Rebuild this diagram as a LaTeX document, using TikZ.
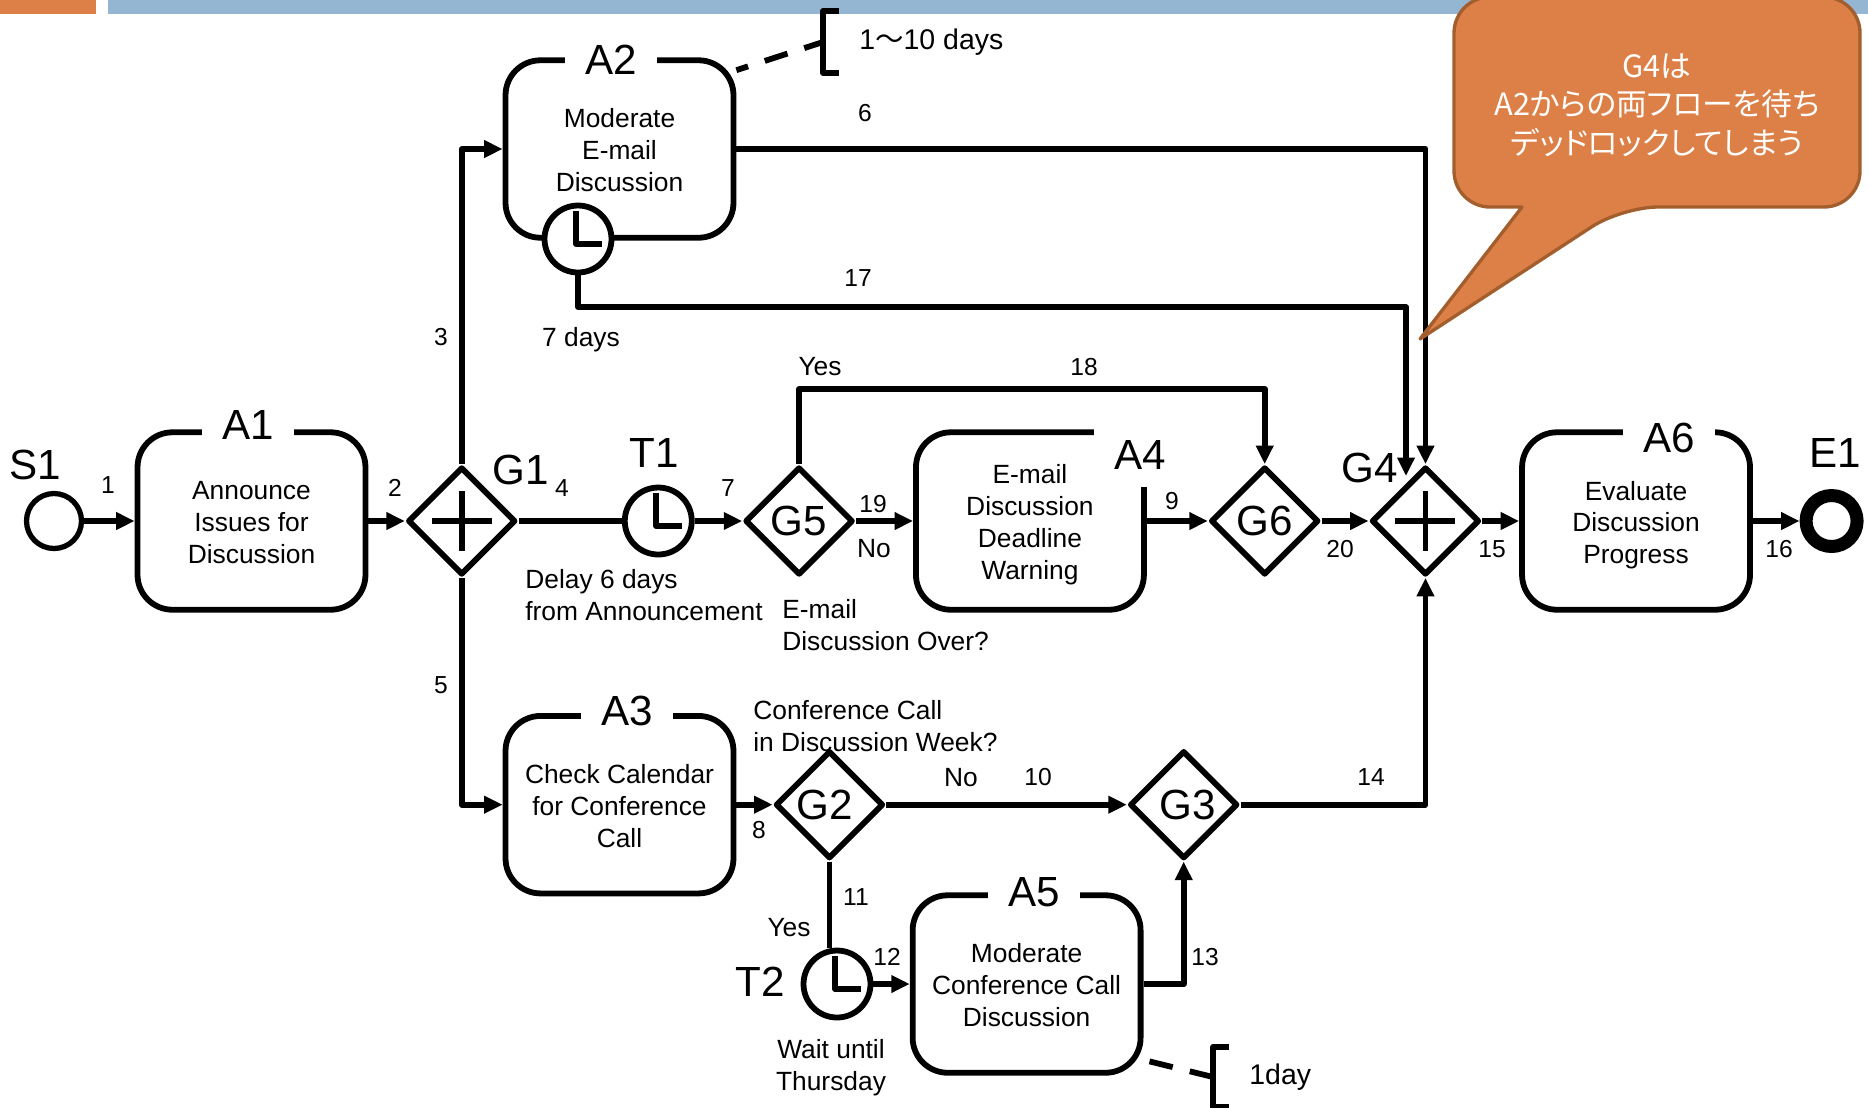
\documentclass[tikz,border=0pt]{standalone}
\usepackage{fontspec}
\setmainfont{Liberation Sans}
\newfontfamily\cjk{Noto Sans CJK JP}
\newfontfamily\cjkp[RawFeature=+palt]{Noto Sans CJK JP}
\usepackage{xcolor}
\usepackage{tikz}
\usetikzlibrary{positioning,arrows.meta,shapes.geometric,calc}
\definecolor{barOrange}{HTML}{DD8047}
\definecolor{barBlue}{HTML}{94B6D2}
\definecolor{noteEdge}{HTML}{A35E2E}

\begin{document}
\begin{tikzpicture}[
    x=0.02cm, y=-0.02cm,
    font=\fontsize{15}{18.2}\selectfont,
    line join=round,
    act_box/.style={draw, line width=3.3pt, rounded corners=0.7cm, minimum width=4.56cm, minimum height=3.55cm, align=center, inner sep=0pt},
    gate_box/.style={draw, diamond, aspect=1, line width=3.3pt, minimum width=2.16cm, minimum height=2.16cm, inner sep=0pt, font=\fontsize{24}{28}\selectfont},
    clock_box/.style={draw, circle, fill=white, line width=3.3pt, minimum size=1.34cm, inner sep=0pt},
    start_box/.style={draw, circle, line width=3pt, minimum size=1.1cm, inner sep=0pt},
    end_box/.style={draw, circle, line width=7.4pt, minimum size=1.02cm, inner sep=0pt},
    title_txt/.style={inner sep=0pt, font=\fontsize{24}{28}\selectfont},
    gap_txt/.style={title_txt, fill=white, minimum width=1.84cm},
    num_txt/.style={inner sep=0pt, font=\fontsize{14}{17}\selectfont},
    note_txt/.style={inner sep=0pt, align=left},
    time_txt/.style={note_txt, anchor=west, font=\fontsize{16.2}{20}\selectfont},
    arrow/.style={-{Triangle[length=10.5pt,width=9.5pt]}, line width=3.3pt},
    flow/.style={line width=3.3pt},
    marker/.style={line width=3.3pt},
    dashline/.style={line width=3.3pt, dash pattern=on 13.6pt off 10pt},
    callout_box/.style={draw=noteEdge, fill=barOrange, line width=1.9pt},
    callout_txt/.style={inner sep=0pt, align=center, text=white, font=\fontsize{17.5}{22}\cjkp}
]
\useasboundingbox (0,0) rectangle (1868,1107);

% slide bars
\fill[barOrange] (0,0) rectangle (96,14);
\fill[barBlue] (108,0) rectangle (1868,14);

% middle row
\node (S1) [start_box] at (54,521) {};
\node (A1) [act_box, right=1.01cm of S1] {\rule{0pt}{11.8pt}Announce\\Issues for\\Discussion};
\node (G1) [gate_box, right=0.73cm of A1] {};
\node (T1) [clock_box, right=2.065cm of G1] {};
\node (G5) [gate_box, right=0.951cm of T1] {G5};
\node (A4) [act_box, right=1.142cm of G5] {\rule{0pt}{14.6pt}E-mail\\Discussion\\Deadline\\Warning};
\node (G6) [gate_box, right=1.22cm of A4] {G6};
\node (G4) [gate_box, right=0.94cm of G6] {};
\node (A6) [act_box, right=0.736cm of G4] {\rule{0pt}{15.6pt}Evaluate\\Discussion\\Progress};
\node (E1) [end_box, right=0.934cm of A6] {};

% upper and lower branches
\node (A2) [act_box] at (619.5,149) {\rule{0pt}{11.8pt}Moderate\\E-mail\\Discussion};
\node (A2t) [clock_box] at (578,239) {};
\node (A3) [act_box, below=9.45cm of A2] {\rule{0pt}{12.8pt}Check Calendar\\for Conference\\Call};
\node (G2) [gate_box, right=0.724cm of A3] {G2\kern 5pt};
\node (G3) [gate_box, right=4.81cm of G2] {\kern 5pt G3};
\node (T2) [clock_box] at (837,984) {};
\node (A5) [act_box, right=0.727cm of T2] {\rule{0pt}{11.8pt}Moderate\\Conference Call\\Discussion};

% titles
\node (lblS1) [title_txt] at (35,465) {S1};
\node (lblA1) [gap_txt] at (248,425) {A1};
\node (lblG1) [title_txt] at (521,470) {G1};
\node (lblT1) [title_txt] at (654,453) {T1};
\node (lblA4) [gap_txt, anchor=north west, minimum height=1.3cm] at (1094,422) {A4};
\node (lblG4) [title_txt] at (1370,468) {G4};
\node (lblA6) [gap_txt] at (1669,438) {A6};
\node (lblE1) [title_txt] at (1835,453) {E1};
\node (lblA2) [gap_txt] at (611,60) {A2};
\node (lblA3) [gap_txt] at (627,711) {A3};
\node (lblA5) [gap_txt] at (1034,892) {A5};
\node (lblT2) [title_txt] at (760,982) {T2};

% plus signs and clock hands
\draw [marker] (G1.center) ++(-30,0) -- ++(60,0);
\draw [marker] (G1.center) ++(0,-30) -- ++(0,60);
\draw [marker] (G4.center) ++(-30,0) -- ++(60,0);
\draw [marker] (G4.center) ++(0,-30) -- ++(0,60);
\draw [marker] (T1.center) ++(-2,-28) -- ++(0,33) -- ++(26,0);
\draw [marker] (T2.center) ++(-2,-28) -- ++(0,33) -- ++(26,0);
\draw [marker] (A2t.center) ++(-2,-28) -- ++(0,33) -- ++(26,0);

% connectors
\coordinate (c17) at (1406,307);
\coordinate (G4nw) at (1406,476);
\draw [arrow] (S1.east) -- (A1.west);
\draw [arrow] (A1.east) -- (G1.west);
\draw [arrow] (G1.north) |- (A2.west);
\draw [flow]  (G1.east) -- (T1.west);
\draw [arrow] (G1.south) |- (A3.west);
\draw [arrow] (A2.east) -| (G4.north);
\draw [arrow] (T1.east) -- (G5.west);
\draw [arrow] (A3.east) -- (G2.west);
\draw [arrow] (A4.east) -- (G6.west);
\draw [arrow] (G2.east) -- (G3.west);
\draw [flow]  (G2.south) -- (G2.south |- T2.north);
\draw [arrow] (T2.east) -- (A5.west);
\draw [arrow] (A5.east) -| (G3.south);
\draw [arrow] (G3.east) -| (G4.south);
\draw [arrow] (G4.east) -- (A6.west);
\draw [arrow] (A6.east) -- (E1.west);
\draw [arrow] (A2t.south) |- (c17) -- (G4nw);
\draw [arrow] (G5.north) -- ++(0,-75) -| (G6.north);
\draw [arrow] (G5.east) -- (A4.west);
\draw [arrow] (G6.east) -- (G4.west);

% time annotations
\coordinate (brA2) at (823,42);
\coordinate (brA5) at (1213,1077);
\draw [dashline, dash phase=6.6pt] (A2.34) -- (brA2);
\draw [marker] (brA2) ++(16,-31) -- ++(-16,0) -- ++(0,62) -- ++(16,0);
\node (time2) [time_txt] at (859,42) {1{\cjk ～}10 days};
\draw [dashline, shorten <=3.5pt] (A5.-33) -- (brA5);
\draw [marker] (brA5) ++(16,-30) -- ++(-16,0) -- ++(0,60) -- ++(16,0);
\node (time5) [time_txt] at (1249,1077) {1day};

% flow numbers
\node (n1) [num_txt] at (108,485) {1};
\node (n2) [num_txt] at (395,488) {2};
\node (n3) [num_txt] at (441,337) {3};
\node (n4) [num_txt] at (562,488) {4};
\node (n5) [num_txt] at (441,685) {5};
\node (n6) [num_txt] at (865,113) {6};
\node (n7) [num_txt] at (728,488) {7};
\node (n8) [num_txt] at (759,830) {8};
\node (n9) [num_txt] at (1172,501) {9};
\node (n10) [num_txt] at (1038,777) {10};
\node (n11) [num_txt] at (856,897) {11};
\node (n12) [num_txt] at (887,957) {12};
\node (n13) [num_txt] at (1205,957) {13};
\node (n14) [num_txt] at (1371,777) {14};
\node (n15) [num_txt] at (1492,549) {15};
\node (n16) [num_txt] at (1779,549) {16};
\node (n17) [num_txt] at (858,278) {17};
\node (n18) [num_txt] at (1084,367) {18};
\node (n19) [num_txt] at (873,504) {19};
\node (n20) [num_txt] at (1340,549) {20};

% other notes
\node (yes5) [note_txt] at (820,367) {Yes};
\node (no5) [note_txt] at (874,549) {No};
\node (no2) [note_txt] at (961,778) {No};
\node (yes2) [note_txt] at (789,928) {Yes};
\node (days7) [note_txt] at (581,340) {7 days};
\node (delay6) [note_txt, anchor=west] at (525,595) {Delay 6 days\\from Announcement};
\node (over5) [note_txt, anchor=west] at (782,625) {E-mail\\Discussion Over?};
\node (week2) [note_txt, anchor=west] at (753,726) {Conference Call\\in Discussion Week?};
\node (wait2) [note_txt, align=center] at (831,1068) {Wait until\\Thursday};

% callout
\draw [callout_box] [rounded corners=0.72cm] (1454,90) -- (1454,-3) -- (1860,-3) -- (1860,207) -- (1622,207)
    [sharp corners] -- (1420,339) -- (1522,207) [rounded corners=0.72cm] -- (1454,207) -- cycle;
\node (note) [callout_txt] at (1657,105) {G4は\\A2からの両フローを待ち\\デッドロックしてしまう};

\end{tikzpicture}
\end{document}
